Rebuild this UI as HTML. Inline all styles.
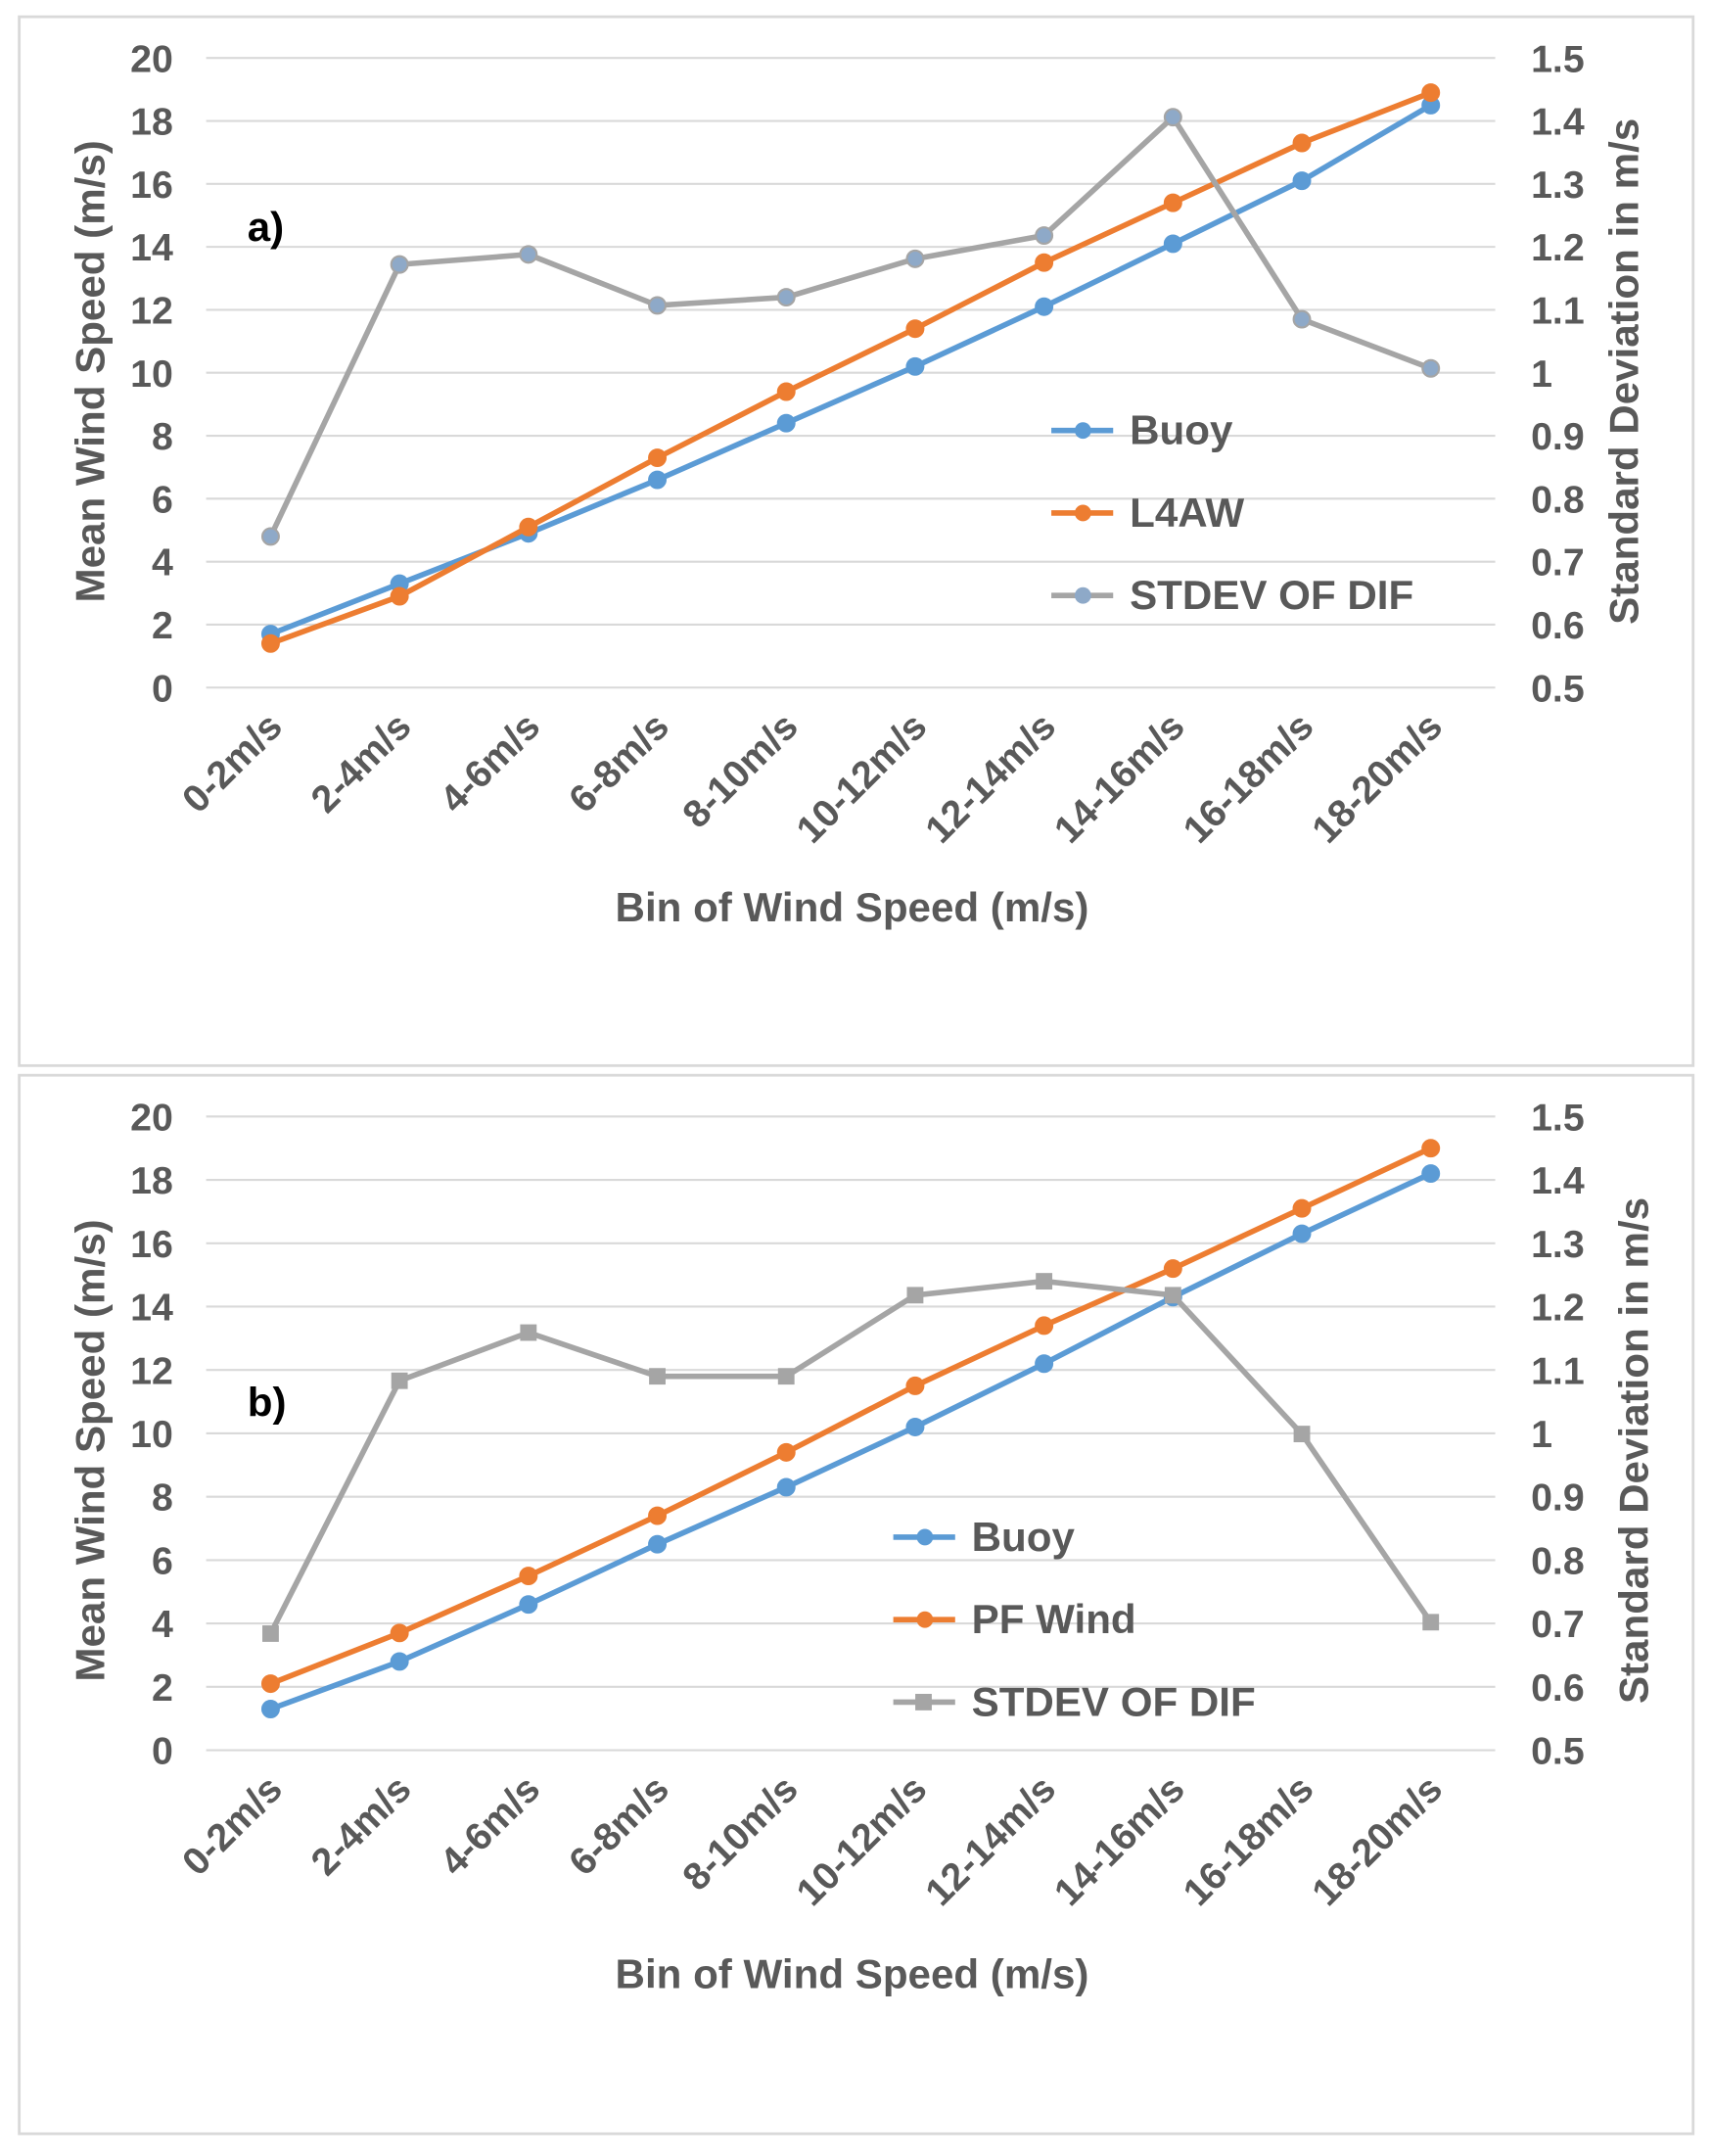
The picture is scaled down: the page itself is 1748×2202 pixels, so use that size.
<!DOCTYPE html>
<html><head><meta charset="utf-8"><style>
html,body{margin:0;padding:0;background:#fff}
svg{display:block}
text{font-family:"Liberation Sans",Arial,sans-serif;font-weight:bold;fill:#595959}
</style></head><body>
<svg id="svg" width="1748" height="2202" viewBox="0 0 1245 1568" xmlns="http://www.w3.org/2000/svg">
<rect x="14" y="12" width="1218" height="763" fill="#fff" stroke="#d9d9d9" stroke-width="2"/>
<rect x="14" y="782" width="1218" height="770" fill="#fff" stroke="#d9d9d9" stroke-width="2"/>
</svg>
<script>
const categories=["0-2m/s","2-4m/s","4-6m/s","6-8m/s","8-10m/s","10-12m/s","12-14m/s","14-16m/s","16-18m/s","18-20m/s"];
const leftTicks=[0,2,4,6,8,10,12,14,16,18,20];
const rightTicks=["0.5","0.6","0.7","0.8","0.9","1","1.1","1.2","1.3","1.4","1.5"];
const buoyA=[1.7,3.3,4.9,6.6,8.4,10.2,12.1,14.1,16.1,18.5];
const l4awA=[1.4,2.9,5.1,7.3,9.4,11.4,13.5,15.4,17.3,18.9];
const stdevA=[0.74,1.172,1.188,1.107,1.12,1.181,1.218,1.406,1.085,1.007];
const buoyB=[1.3,2.8,4.6,6.5,8.3,10.2,12.2,14.3,16.3,18.2];
const pfB=[2.1,3.7,5.5,7.4,9.4,11.5,13.4,15.2,17.1,19.0];
const stdevB=[0.684,1.083,1.159,1.09,1.09,1.218,1.24,1.218,0.999,0.702];

const NS="http://www.w3.org/2000/svg";
const svg=document.getElementById('svg');
function mk(tag,attrs,parent,txt){const e=document.createElementNS(NS,tag);for(const k in attrs)e.setAttribute(k,attrs[k]);if(txt!==undefined)e.textContent=txt;(parent||svg).appendChild(e);return e;}

function chart(id,y0,y20,series,label,legX,legY,labelY,xTitleY,lTitleY,rTitleX){
  const g=mk('g',{});
  
  
  const x0=150,x1=1088,step=(x1-x0)/10;
  const xs=i=>x0+step*(i+0.5);
  const yl=v=>y0+(y20-y0)*v/20;
  const yr=v=>y0+(y20-y0)*(v-0.5)/1.0;
  leftTicks.forEach((t,i)=>{
    const gl=mk('line',{x1:x0,x2:x1,y1:yl(t),y2:yl(t),stroke:'#d9d9d9','stroke-width':1.5},g);
    
    
    const tl=mk('text',{x:126,y:yl(t)+10,'text-anchor':'end','font-size':28},g,t);
    
    
    const tr=mk('text',{x:1114,y:yr(0.5+i*0.1)+10,'font-size':28},g,rightTicks[i]);
    
    
  });
  categories.forEach((c,i)=>{
    const t=mk('text',{transform:`translate(${xs(i)+10},${y0+30}) rotate(-45)`,'text-anchor':'end','font-size':28},g,c);
    
    
  });
  const xt=mk('text',{x:620,y:xTitleY,'text-anchor':'middle','font-size':30},g,'Bin of Wind Speed (m/s)');
  
  
  const lt=mk('text',{transform:`translate(76,${lTitleY}) rotate(-90)`,'text-anchor':'middle','font-size':30},g,'Mean Wind Speed (m/s)');
  
  
  const rt=mk('text',{transform:`translate(${rTitleX},${lTitleY}) rotate(-90)`,'text-anchor':'middle','font-size':30},g,'Standard Deviation in m/s');
  
  
  const pl=mk('text',{x:180,y:labelY,'font-size':30},g,label);
  pl.style.fill='#000';
  
  
  series.forEach((s,si)=>{
    const sc=s.axis==='r'?yr:yl;
    const pts=s.vals.map((v,i)=>xs(i)+','+sc(v)).join(' ');
    const ln=mk('polyline',{points:pts,fill:'none',stroke:s.color,'stroke-width':4},g);
    
    
    s.vals.forEach((v,i)=>{
      let m;
      if(s.square) m=mk('rect',{x:xs(i)-6,y:sc(v)-6,width:12,height:12,fill:s.color},g);
      else m=mk('circle',{cx:xs(i),cy:sc(v),r:6,fill:s.mfill||s.color,stroke:s.color,'stroke-width':1.5},g);
      
      
    });
    const ly=legY+si*60;
    const ll=mk('line',{x1:legX,x2:legX+45,y1:ly,y2:ly,stroke:s.color,'stroke-width':4},g);
    
    
    let lm;
    if(s.square) lm=mk('rect',{x:legX+16,y:ly-6,width:12,height:12,fill:s.color},g);
    else lm=mk('circle',{cx:legX+23,cy:ly,r:6,fill:s.mfill||s.color},g);
    
    
    const lt2=mk('text',{x:legX+57,y:ly+10,'font-size':30},g,s.name);
    
    
  });
}
chart('a',500,42,[
 {key:'buoy',name:'Buoy',vals:buoyA,color:'#5b9bd5',axis:'l'},
 {key:'l4aw',name:'L4AW',vals:l4awA,color:'#ed7d31',axis:'l'},
 {key:'stdev',name:'STDEV OF DIF',vals:stdevA,color:'#a5a5a5',mfill:'#8ea9c8',axis:'r'}
],'a)',765,313,175,670,270,1192);
chart('b',1273,812,[
 {key:'buoy',name:'Buoy',vals:buoyB,color:'#5b9bd5',axis:'l'},
 {key:'pf',name:'PF Wind',vals:pfB,color:'#ed7d31',axis:'l'},
 {key:'stdev',name:'STDEV OF DIF',vals:stdevB,color:'#a5a5a5',axis:'r',square:true}
],'b)',650,1118,1030,1446,1055,1199);
</script>
</body></html>
